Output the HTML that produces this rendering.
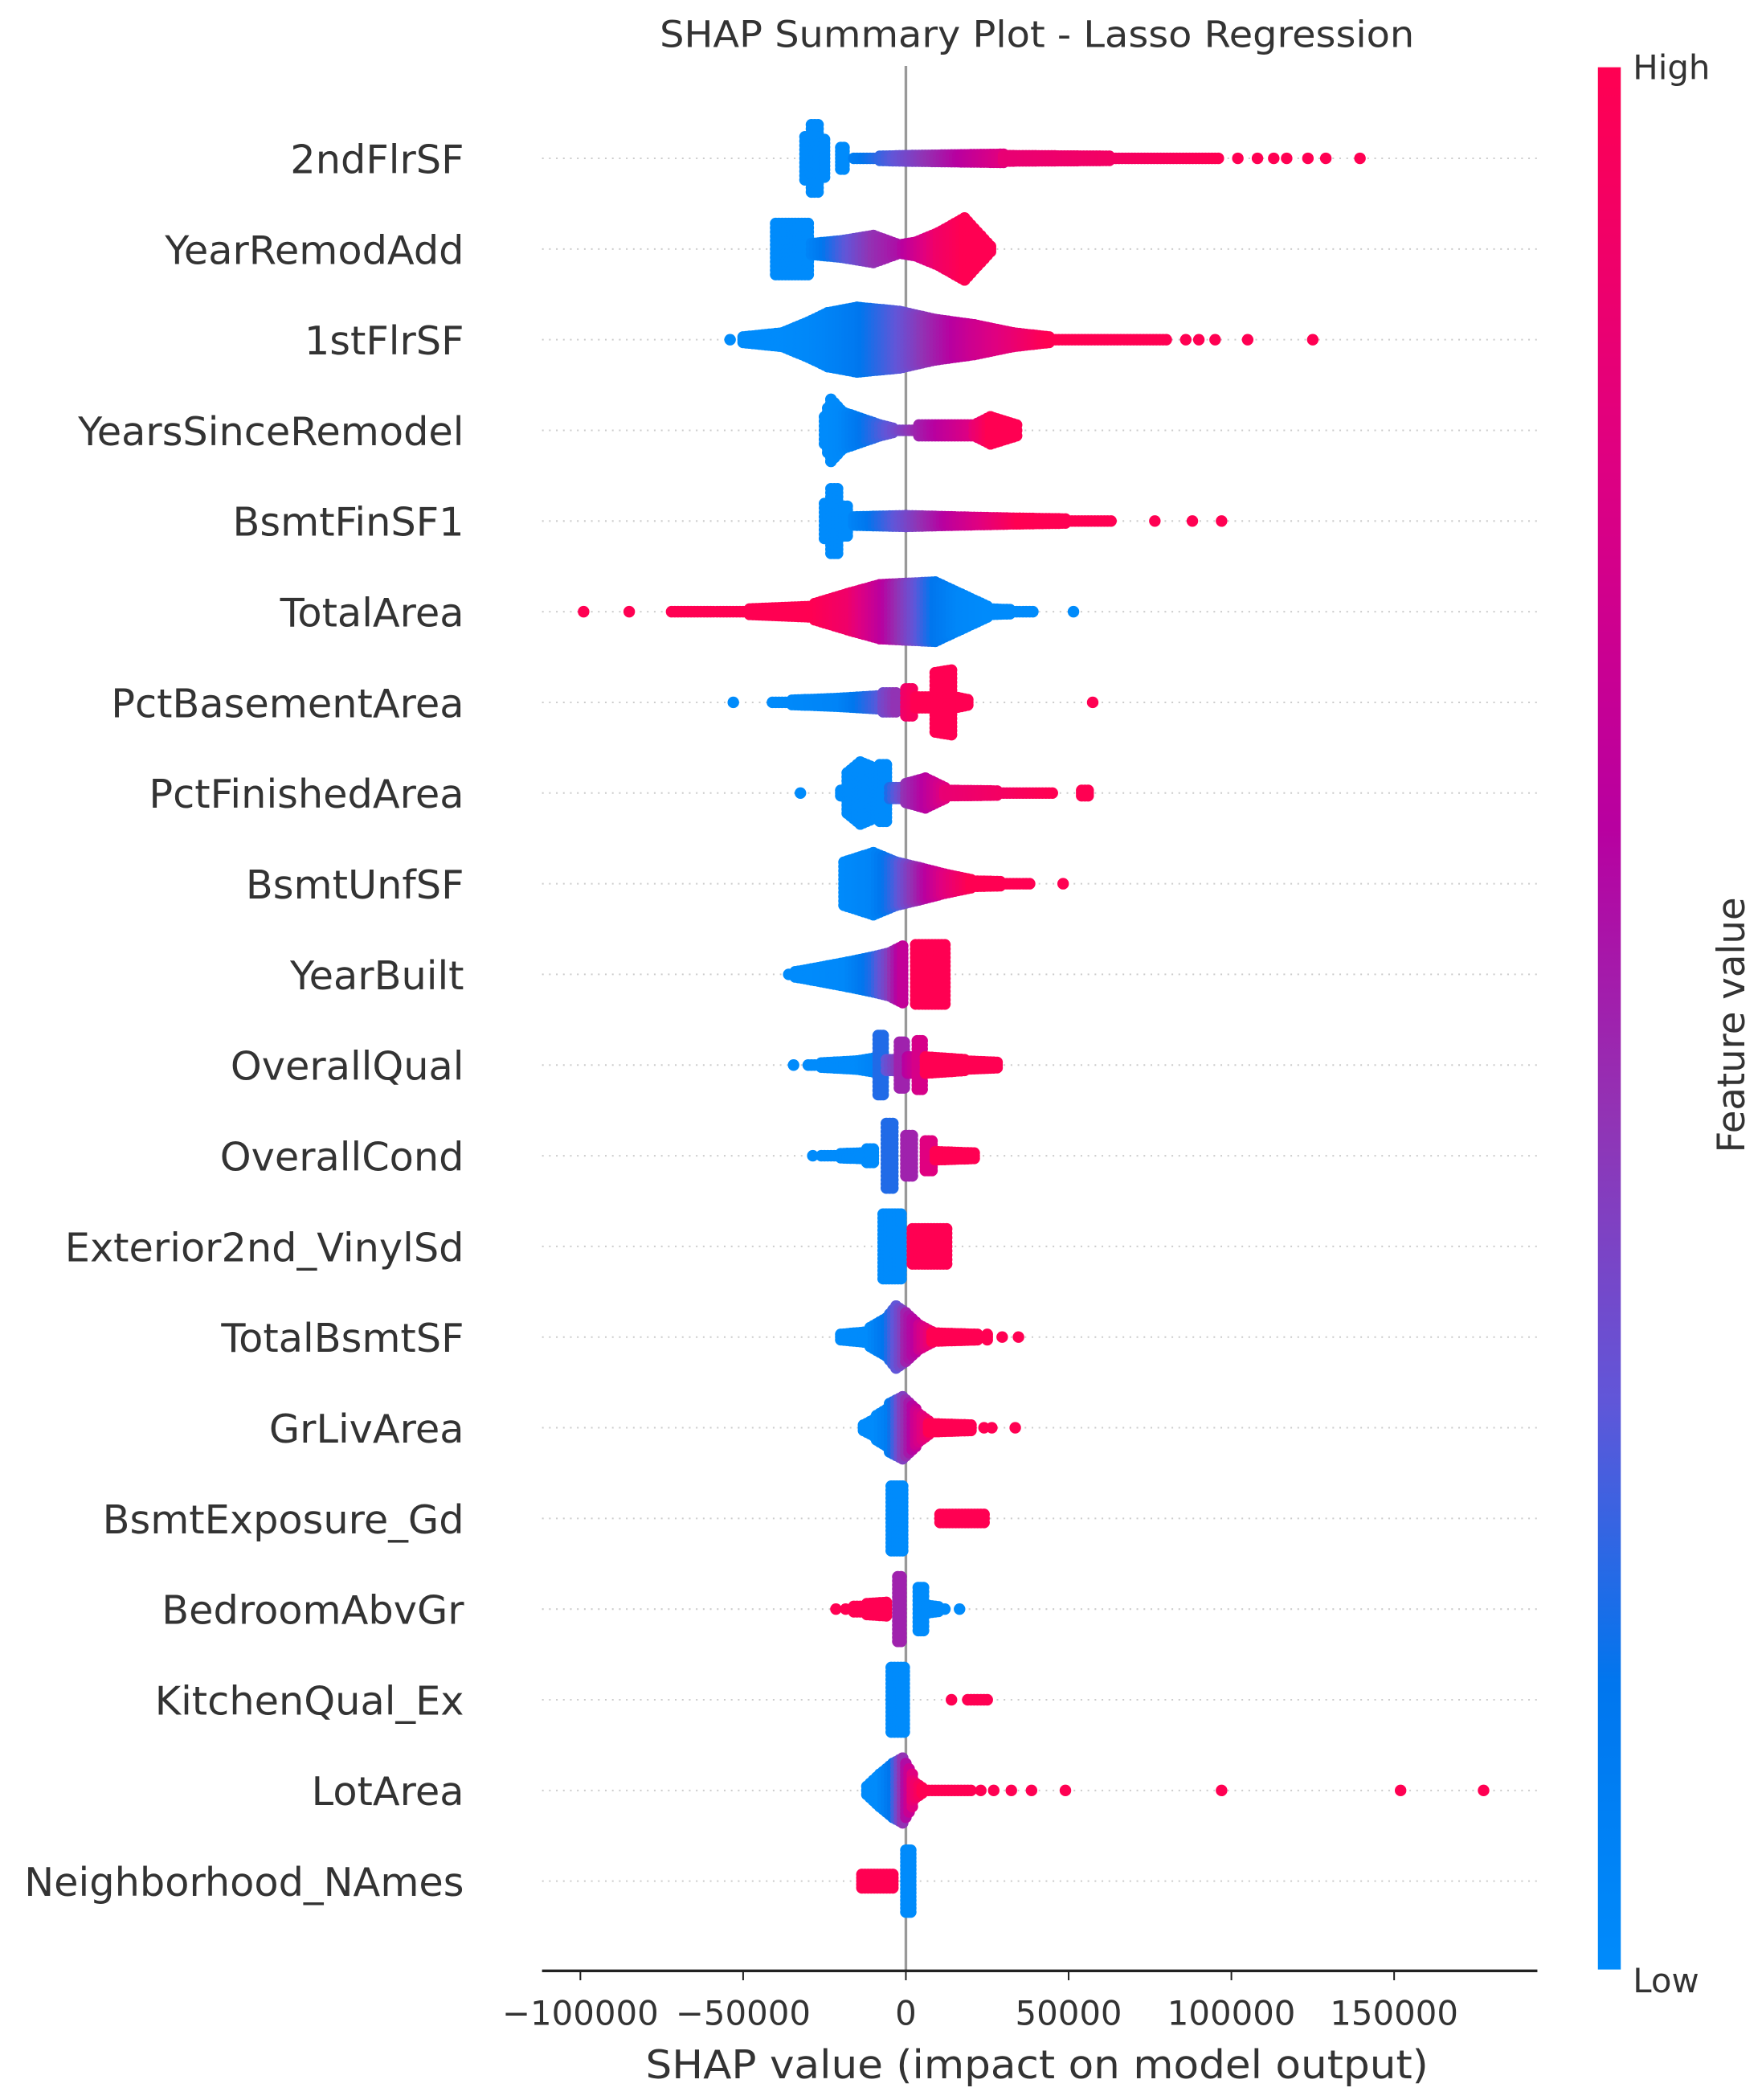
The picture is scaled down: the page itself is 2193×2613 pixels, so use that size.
<!DOCTYPE html>
<html><head><meta charset="utf-8"><title>SHAP Summary Plot - Lasso Regression</title>
<style>
html,body{margin:0;padding:0;background:#fff;}
svg{display:block;}
text{font-family:"DejaVu Sans","Liberation Sans",sans-serif;fill:#333;}
</style></head>
<body>
<svg id="chart" width="2193" height="2613" viewBox="0 0 1310 1561" preserveAspectRatio="none" xmlns="http://www.w3.org/2000/svg">
  <defs>
    <linearGradient id="cbar" x1="0" y1="1" x2="0" y2="0">
      <stop offset="0" stop-color="#008bfb"/>
      <stop offset="0.15" stop-color="#0076ee"/>
      <stop offset="0.3" stop-color="#6156d8"/>
      <stop offset="0.45" stop-color="#9233b4"/>
      <stop offset="0.6" stop-color="#b800a0"/>
      <stop offset="0.8" stop-color="#e00080"/>
      <stop offset="1" stop-color="#ff0052"/>
    </linearGradient>
  </defs>
  <text x="771" y="35" font-size="27" text-anchor="middle" textLength="561" lengthAdjust="spacingAndGlyphs">SHAP Summary Plot - Lasso Regression</text>
  <g id="grid"></g>
  <line x1="673.5" y1="49" x2="673.5" y2="1465" stroke="#999" stroke-width="2"/>
  <g id="dots"></g>
  <g id="labels"></g>
  <line x1="403" y1="1465" x2="1143" y2="1465" stroke="#222" stroke-width="2"/>
  <g id="ticks"></g>
  <text x="771" y="1545" font-size="29" text-anchor="middle" textLength="582" lengthAdjust="spacingAndGlyphs">SHAP value (impact on model output)</text>
  <rect x="1188" y="50" width="17" height="1414" fill="url(#cbar)"/>
  <text x="1214" y="59" font-size="25">High</text>
  <text x="1214" y="1481" font-size="25">Low</text>
  <text transform="translate(1297,762) rotate(-90)" x="0" y="0" font-size="28" text-anchor="middle" textLength="190" lengthAdjust="spacingAndGlyphs">Feature value</text>
</svg>
<script>
// Feature names (top to bottom)
const features = ["2ndFlrSF","YearRemodAdd","1stFlrSF","YearsSinceRemodel","BsmtFinSF1","TotalArea","PctBasementArea","PctFinishedArea","BsmtUnfSF","YearBuilt","OverallQual","OverallCond","Exterior2nd_VinylSd","TotalBsmtSF","GrLivArea","BsmtExposure_Gd","BedroomAbvGr","KitchenQual_Ex","LotArea","Neighborhood_NAmes"];
// X tick values (SHAP units) and labels
const tickValues = [-100000,-50000,0,50000,100000,150000];
const tickLabels = ["\u2212100000","\u221250000","0","50000","100000","150000"];
// Per-feature swarm segments: [shapStart(k$), shapEnd(k$), spreadStart, spreadEnd, featValStart, featValEnd]
const rowSegments = [
 [[-31,-30,16,16,0,0],[-29,-27,25,25,0,0],[-26,-25,14,14,0,0],[-20,-19,8,8,0,0],[-16,0,1,2,0.1,0.35],[0,30,2,3,0.35,0.8],[30,96,2,1,0.85,1],[102,102,0,0,1,1],[108,108,0,0,1,1],[113,113,0,0,1,1],[117,117,0,0,1,1],[123.5,123.5,0,0,1,1],[129,129,0,0,1,1],[139.5,139.5,0,0,1,1]],
 [[-40,-30,19,19,0,0],[-29,-20,4,6,0.05,0.25],[-20,-10,6,10,0.25,0.45],[-10,-2,10,3,0.45,0.55],[-2,3,3,5,0.55,0.7],[3,10,5,12,0.7,0.9],[10,18,12,23,0.9,1],[18,26,23,2,1,1]],
 [[-54,-54,0,0,0,0],[-50,-38,2,5,0,0],[-38,-30,5,13,0,0.02],[-30,-24,13,20,0.02,0.05],[-24,-15,20,24,0.05,0.12],[-15,-2,24,21,0.12,0.3],[-2,9,21,15,0.3,0.5],[9,21,15,11,0.5,0.7],[21,33,11,5,0.7,0.85],[33,44,5,2,0.85,1],[44,80,1,1,1,1],[86,86,0,0,1,1],[90,90,0,0,1,1],[95,95,0,0,1,1],[105,105,0,0,1,1],[125,125,0,0,1,1]],
 [[-25,-23,10,23,0,0],[-23,-20,23,15,0,0.02],[-20,-8,14,4,0.02,0.25],[-8,-3,4,1,0.25,0.35],[-3,4,1,1,0.35,0.5],[4,21,4,4,0.5,0.8],[21,26,4,10,0.85,1],[26,34,10,4,1,1]],
 [[-25,-24,13,13,0,0],[-23,-21,24,24,0,0],[-19,-18,11,11,0,0],[-16,0,3,4,0.05,0.35],[0,15,4,3,0.35,0.65],[15,35,3,2,0.65,1],[35,63,2,1,1,1],[76.5,76.5,0,0,1,1],[88,88,0,0,1,1],[97,97,0,0,1,1]],
 [[-99,-99,0,0,1,1],[-85,-85,0,0,1,1],[-72,-50,1,1,1,1],[-48,-28,2,4,1,1],[-28,-17,6,14,1,0.9],[-17,-8,14,20,0.9,0.65],[-8,0,20,21,0.65,0.4],[0,9,21,22,0.4,0.15],[9,17,22,13,0.15,0.03],[17,25,13,4,0.03,0],[25,39,2,1,0,0],[51.5,51.5,0,0,0,0]],
 [[-53,-53,0,0,0,0],[-41,-20,1,3,0,0.05],[-20,-7,3,5,0.05,0.3],[-7,-3,7,7,0.35,0.45],[0,2,10,10,0.9,0.95],[3,8,4,4,1,1],[9,14,22,24,1,1],[15,19,4,2,1,1],[57.4,57.4,0,0,1,1]],
 [[-32.4,-32.4,0,0,0,0],[-20,-20,2,2,0,0],[-18,-14,15,23,0,0],[-14,-9,23,18,0,0],[-8,-6,21,21,0,0],[-5,0,4,4,0.2,0.4],[0,6,7,11,0.45,0.6],[6,12,11,4,0.6,0.8],[12,45,2,1,0.85,1],[54,56,2,2,1,1]],
 [[-19,-10,16,23,0,0.05],[-10,-3,23,16,0.05,0.25],[-3,4,16,12,0.25,0.5],[4,12,12,7,0.5,0.8],[12,20,7,3,0.8,1],[20,38,2,1,1,1],[48.3,48.3,0,0,1,1]],
 [[-36,-29,1,4,0,0],[-29,-18,4,9,0,0.02],[-18,-10,9,13,0.02,0.2],[-10,-5,13,16,0.2,0.4],[-5,-1,16,21,0.4,0.65],[3,12,22,22,1,1]],
 [[-34.5,-34.5,0,0,0,0],[-30,-15,1,3,0,0],[-15,-10,3,5,0,0.05],[-8.5,-7,22,22,0.2,0.2],[-6,-3,4,4,0.3,0.4],[-2,-0.5,17,17,0.5,0.5],[0.5,3,6,6,0.6,0.7],[3.5,5,18,18,0.75,0.75],[6,18,6,4,1,1],[18,28,3,2,1,1]],
 [[-28.6,-28.6,0,0,0,0],[-26,-14,1,2,0,0],[-12,-10,5,5,0,0],[-6,-4,24,24,0.2,0.2],[0,2,15,15,0.5,0.5],[6,8,11,11,0.8,0.8],[9,21,3,2,1,1]],
 [[-7,-1.5,24,24,0,0],[2,12.5,13,13,1,1]],
 [[-20,-11,2,4,0,0],[-11,-6,7,14,0,0.15],[-6,-3,14,23,0.15,0.3],[-3,0,23,18,0.3,0.45],[0,4,18,9,0.5,0.65],[4,8,9,4,0.7,0.9],[8,22,3,2,1,1],[25,25,2,2,1,1],[29.6,29.6,1,1,1,1],[34.6,34.6,1,1,1,1]],
 [[-13,-9,2,7,0,0],[-9,-5,9,15,0,0.1],[-5,-1,18,23,0.1,0.4],[-1,3,23,14,0.4,0.65],[3,7,12,5,0.7,0.9],[7,20,3,2,1,1],[24,24,0,0,1,1],[26.4,26.4,1,1,1,1],[33.6,33.6,1,1,1,1]],
 [[-4.5,-1,24,24,0,0],[10.5,24,3,3,1,1]],
 [[-21.5,-21.5,0,0,1,1],[-18.5,-18.5,0,0,1,1],[-16,-12,2,2,1,1],[-12,-6,4,5,1,1],[-2.5,-1.5,24,24,0.5,0.5],[3.8,5.4,16,16,0,0],[6,12,3,1,0,0],[16.5,16.5,0,0,0,0]],
 [[-4.5,-0.5,24,24,0,0],[14,14,1,1,1,1],[19,25,1,1,1,1]],
 [[-12,-8,3,12,0,0],[-8,-4,12,20,0,0.15],[-4,-1,20,24,0.15,0.45],[-1,2,24,12,0.45,0.8],[2,5,7,2,0.85,1],[5,20,1,1,1,1],[23,23,0,0,1,1],[27,27,0,0,1,1],[32.4,32.4,0,0,1,1],[38.6,38.6,0,0,1,1],[49,49,0,0,1,1],[97,97,0,0,1,1],[152,152,0,0,1,1],[177.5,177.5,0,0,1,1]],
 [[-13.5,-4,5,5,1,1],[0,1.5,23,23,0,0]]
];

const NS = "http://www.w3.org/2000/svg";
function xScale(v){ return 673.5 + v * 121 / 50000; }
function rowY(i){ return 117.7 + i * 67.4; }
const cStops = [[0,[0,139,251]],[0.15,[0,118,238]],[0.3,[97,86,216]],[0.45,[146,51,180]],[0.6,[184,0,160]],[0.8,[224,0,128]],[1,[255,0,82]]];
function colorOf(t){
  t = Math.max(0, Math.min(1, t));
  for (let i = 1; i < cStops.length; i++) {
    if (t <= cStops[i][0]) {
      const a = cStops[i-1], b = cStops[i], f = (t - a[0]) / (b[0] - a[0]);
      const c = a[1].map((v, k) => Math.round(v + (b[1][k] - v) * f));
      return "rgb(" + c.join(",") + ")";
    }
  }
  return "rgb(255,0,82)";
}
const grid = document.getElementById("grid");
const dots = document.getElementById("dots");
const labels = document.getElementById("labels");
const ticks = document.getElementById("ticks");

features.forEach((name, i) => {
  const y = rowY(i);
  const gl = document.createElementNS(NS, "line");
  gl.setAttribute("x1", 403); gl.setAttribute("x2", 1143);
  gl.setAttribute("y1", y); gl.setAttribute("y2", y);
  gl.setAttribute("stroke", "#ccc"); gl.setAttribute("stroke-width", "1.2");
  gl.setAttribute("stroke-dasharray", "1.2,4");
  
  
  grid.appendChild(gl);

  const t = document.createElementNS(NS, "text");
  t.setAttribute("x", 345); t.setAttribute("y", y + 11);
  t.setAttribute("font-size", "29.5"); t.setAttribute("text-anchor", "end");
  t.textContent = name;
  
  
  labels.appendChild(t);

  const g = document.createElementNS(NS, "g");
  
  
  rowSegments[i].forEach(seg => {
    const [v0, v1, h0, h1, c0, c1] = seg;
    const x0 = xScale(v0 * 1000), x1 = xScale(v1 * 1000);
    const nCols = Math.max(1, Math.round((x1 - x0) / 2.4) + 1);
    for (let k = 0; k < nCols; k++) {
      const f = nCols === 1 ? 0 : k / (nCols - 1);
      const cx = x0 + (x1 - x0) * f;
      const h = h0 + (h1 - h0) * f;
      const col = colorOf(c0 + (c1 - c0) * f);
      const n = Math.max(0, Math.round(h / 3));
      for (let j = -n; j <= n; j++) {
        const cy = y + (n === 0 ? 0 : j * h / n);
        const c = document.createElementNS(NS, "circle");
        c.setAttribute("cx", cx.toFixed(1)); c.setAttribute("cy", cy.toFixed(1));
        c.setAttribute("r", "4.3"); c.setAttribute("fill", col);
        g.appendChild(c);
      }
    }
  });
  dots.appendChild(g);
});

tickValues.forEach((v, i) => {
  const x = xScale(v);
  const l = document.createElementNS(NS, "line");
  l.setAttribute("x1", x); l.setAttribute("x2", x);
  l.setAttribute("y1", 1465); l.setAttribute("y2", 1472);
  l.setAttribute("stroke", "#222"); l.setAttribute("stroke-width", "1.2");
  
  
  ticks.appendChild(l);
  const t = document.createElementNS(NS, "text");
  t.setAttribute("x", x); t.setAttribute("y", 1505);
  t.setAttribute("font-size", "25"); t.setAttribute("text-anchor", "middle");
  t.textContent = tickLabels[i];
  
  
  ticks.appendChild(t);
});
</script>
</body></html>
